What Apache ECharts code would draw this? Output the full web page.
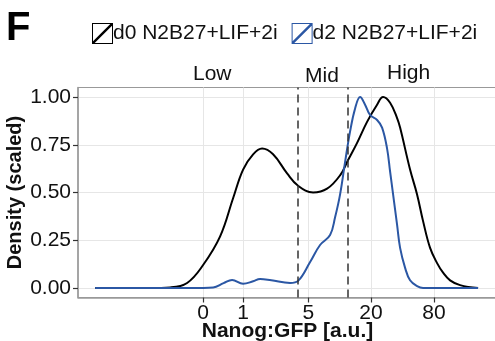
<!DOCTYPE html>
<html>
<head>
<meta charset="utf-8">
<script src="https://cdn.jsdelivr.net/npm/echarts@6/dist/echarts.min.js"></script>
<style>html,body{margin:0;padding:0;background:#fff}#c{width:495px;height:341px}</style>
</head>
<body>
<div id="c"></div>
<script>
// x positions are asinh(Nanog:GFP)
var seriesNames = ['d0 N2B27+LIF+2i', 'd2 N2B27+LIF+2i'];
var d0X = [-2.374,-1.165,-0.725,-0.352,0,0.374,0.659,0.879,1.099,1.297,1.538,1.846,2.088,2.418,2.725,3.011,3.187,3.385,3.604,3.824,3.956,4.110,4.264,4.330,4.549,4.703,4.835,4.989,5.143,5.275,5.429,5.648,6.044];
var d0Y = [0,0,0.003,0.026,0.12,0.27,0.47,0.62,0.70,0.73,0.70,0.60,0.535,0.50,0.52,0.59,0.67,0.76,0.87,0.96,1.0,0.97,0.89,0.84,0.62,0.49,0.35,0.21,0.13,0.08,0.04,0.015,0];
var d2X = [-2.374,-1.0,0,0.220,0.45,0.637,0.879,1.099,1.253,1.5,1.912,2.088,2.352,2.571,2.791,2.901,3.011,3.121,3.231,3.341,3.451,3.560,3.670,3.824,3.934,4.044,4.110,4.176,4.264,4.330,4.440,4.549,4.703,4.835,6.044];
var d2Y = [0,0,0,0.002,0.025,0.042,0.022,0.035,0.047,0.04,0.026,0.037,0.136,0.225,0.277,0.37,0.49,0.66,0.82,0.94,1.0,0.96,0.906,0.88,0.84,0.73,0.61,0.49,0.33,0.21,0.105,0.04,0.01,0,0];
var xTickValues = [0, 1, 5, 20, 80];
var xTickLabels = ['0', '1', '5', '20', '80'];
var yTickValues = [0, 0.25, 0.5, 0.75, 1];
var thresholds = [4, 12];
var regionLabels = ['Low', 'Mid', 'High'];

var xTickT = xTickValues.map(function (v) { return Math.asinh(v); });
function pairs(xs, ys) { return xs.map(function (x, i) { return [x, ys[i]]; }); }
var icon = 'path://M0,0H21V21H0Z M1,1V20H20V1Z M1,18.3L18.3,1L20,1L20,2.7L2.7,20L1,20Z';
var FONT = 'Liberation Sans';

var chart = echarts.init(document.getElementById('c'));
chart.setOption({
  animation: false,
  title: { text: 'F', left: 6, top: 9, padding: 0, textStyle: { fontSize: 40, fontWeight: 'bold', color: '#000', fontFamily: FONT } },
  legend: {
    data: seriesNames, left: 92, top: 23, padding: 0, itemWidth: 21, itemHeight: 21, itemGap: 14, icon: icon,
    textStyle: { fontSize: 21, color: '#111', fontFamily: FONT, padding: [0, 0, 0, -5] }
  },
  graphic: [
    { type: 'text', left: 193, top: 64, style: { text: regionLabels[0], fontSize: 21, fill: '#111', fontFamily: FONT } },
    { type: 'text', left: 305, top: 66, style: { text: regionLabels[1], fontSize: 21, fill: '#111', fontFamily: FONT } },
    { type: 'text', left: 387, top: 63, style: { text: regionLabels[2], fontSize: 21, fill: '#111', fontFamily: FONT } }
  ],
  grid: { left: 78, top: 87.5, width: 419, height: 210, show: true, borderColor: '#999', borderWidth: 1, outerBoundsMode: 'none', containLabel: false },
  xAxis: {
    type: 'value', min: -2.75, max: 6.46,
    name: 'Nanog:GFP [a.u.]', nameLocation: 'middle', nameGap: 23, nameMoveOverlap: false,
    nameTextStyle: { fontSize: 21, fontWeight: 'bold', color: '#111', fontFamily: FONT },
    axisLine: { show: true, onZero: false, lineStyle: { color: '#999', width: 1.5 } },
    axisTick: { show: true, length: 5, customValues: xTickT, lineStyle: { color: '#333', width: 1.2 } },
    axisLabel: { customValues: xTickT, margin: 5, fontSize: 21, color: '#111', fontFamily: FONT,
      formatter: function (v) { var best = 0; for (var i = 0; i < xTickT.length; i++) { if (Math.abs(xTickT[i] - v) < Math.abs(xTickT[best] - v)) best = i; } return xTickLabels[best]; } },
    splitLine: { show: true, lineStyle: { color: '#e6e6e6', width: 1 } }
  },
  yAxis: {
    type: 'value', min: -0.05, max: 1.05,
    name: 'Density (scaled)', nameLocation: 'middle', nameGap: 53, nameMoveOverlap: false,
    nameTextStyle: { fontSize: 20, fontWeight: 'bold', color: '#111', fontFamily: FONT },
    axisLine: { show: true, onZero: false, lineStyle: { color: '#999', width: 1.5 } },
    axisTick: { show: true, length: 5, customValues: yTickValues, lineStyle: { color: '#333', width: 1.2 } },
    axisLabel: { customValues: yTickValues, margin: 7, fontSize: 21, color: '#111', fontFamily: FONT,
      formatter: function (v) { return v.toFixed(2); } },
    splitLine: { show: true, lineStyle: { color: '#e6e6e6', width: 1 } }
  },
  series: [
    {
      name: seriesNames[0], type: 'line', data: pairs(d0X, d0Y), smooth: 0.4, symbol: 'none', color: '#000',
      lineStyle: { color: '#000', width: 2 },
      markLine: { silent: true, symbol: 'none', label: { show: false },
        lineStyle: { color: '#333', type: [8, 5], width: 1.5 },
        data: thresholds.map(function (t) { return { xAxis: Math.asinh(t) }; }) }
    },
    {
      name: seriesNames[1], type: 'line', data: pairs(d2X, d2Y), smooth: 0.4, symbol: 'none', color: '#2b57a4',
      lineStyle: { color: '#2b57a4', width: 2 }
    }
  ]
});
</script>
</body>
</html>
